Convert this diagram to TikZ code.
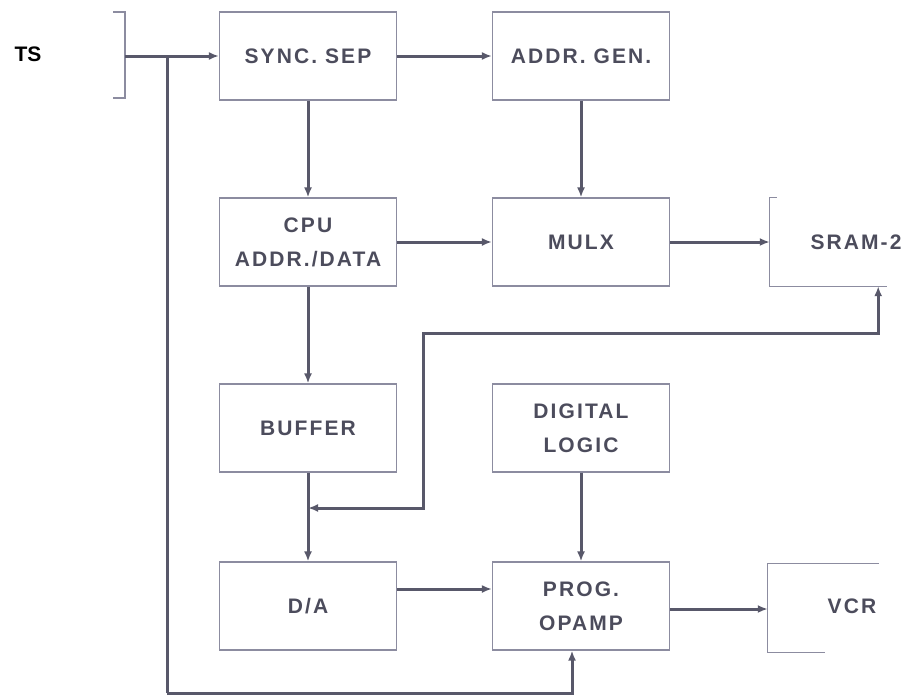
\documentclass[tikz,border=0pt]{standalone}
\usepackage{fontspec}
\setmainfont{Liberation Sans}
\newfontfamily\blkfamily[LetterSpace=10]{Liberation Sans}
\usetikzlibrary{arrows.meta,positioning,calc}
\definecolor{boxGray}{RGB}{140,140,160}
\definecolor{lineGray}{RGB}{88,88,106}
\definecolor{inkGray}{RGB}{76,76,92}
\newcommand{\blkfont}{\blkfamily\bfseries\fontsize{21}{34}\selectfont}
\tikzset{
	blk/.style={
		draw=boxGray,
		line width=1.2pt,
		minimum width=177pt,
		minimum height=88pt,
		align=center,
		inner sep=0pt,
		text=inkGray,
		font=\blkfont
	},
	opn/.style={minimum width=115pt, minimum height=88pt, inner sep=0pt},
	lbl/.style={text=inkGray, font=\blkfont, inner sep=0pt},
	edg/.style={boxGray, line width=1.2pt},
	larr/.style={-{Latex[length=10pt,width=8pt]}, line width=3pt, lineGray},
	barr/.style={{Latex[length=10pt,width=8pt]}-{Latex[length=10pt,width=8pt]}, line width=3pt, lineGray}
}

\begin{document}
\begin{tikzpicture}[x=1pt, y=-1pt]
		\useasboundingbox (0,0) rectangle (909,696);
		% blocks
		\node[blk] (sync) at (308,56) {SYNC. SEP};
		\node[blk] (addr) at (581,56) {ADDR. GEN.};
		\node[blk] (cpu) at (308,242) {CPU\\ADDR./DATA};
		\node[blk] (mulx) at (581,242) {MULX};
		\node[blk] (buf) at (308,428) {BUFFER};
		\node[blk] (dig) at (581,428) {DIGITAL\\LOGIC};
		\node[blk] (da) at (308,606) {D/A};
		\node[blk] (prog) at (581,606) {PROG.\\OPAMP};
		% open boxes
		\node[opn] (sram) at (827.5,242) {};
		\node[lbl] (sramtxt) at (856,242) {SRAM-2};
		\draw[edg] ($(sram.north west)+(7,0)$) -- (sram.north west) -- (sram.south west) -- ($(sram.south east)+(2,0)$);
		\node[opn, minimum width=111pt] (vcr) at (823.5,608) {};
		\node[lbl] (vcrtxt) at (852,606) {VCR};
		\draw[edg] (vcr.north east) -- (vcr.north west) -- (vcr.south west) -- ($(vcr.south west)+(57,0)$);
		% input
		\node[text=black, font=\bfseries\fontsize{21}{22}\selectfont] (ts) at (28,54) {TS};
		\draw[edg] (113,12) -- (125,12) -- (125,98) -- (113,98);
		\coordinate (tsin) at (125,56);
		\coordinate (tsj) at (167,56);
		\coordinate (tsbot) at (167,693);
		% connectors
		\draw[larr] (tsin) -- (sync.west);
		\draw[larr] (sync.east) -- (addr.west);
		\draw[larr] (sync.south) -- (cpu.north);
		\draw[larr] (addr.south) -- (mulx.north);
		\draw[larr] (cpu.east) -- (mulx.west);
		\draw[larr] (mulx.east) -- (sram.west);
		\draw[larr] (cpu.south) -- (buf.north);
		\draw[larr] (buf.south) -- (da.north);
		\draw[larr] (dig.south) -- (prog.north);
		\draw[larr] ($(da.east)+(0,-17)$) -- ($(prog.west)+(0,-17)$);
		\draw[larr] ($(prog.east)+(0,3)$) -- ($(vcr.west)+(0,1)$);
		\coordinate (fb) at (308,508);
		\draw[barr] (fb) -| (423,333) -| ($(sram.south east)+(-7,0)$);
		\draw[line width=3pt, lineGray] (tsj) -- (tsbot);
		\draw[larr] (tsbot) -| ([xshift=-9pt]prog.south);
	\end{tikzpicture}
\end{document}
